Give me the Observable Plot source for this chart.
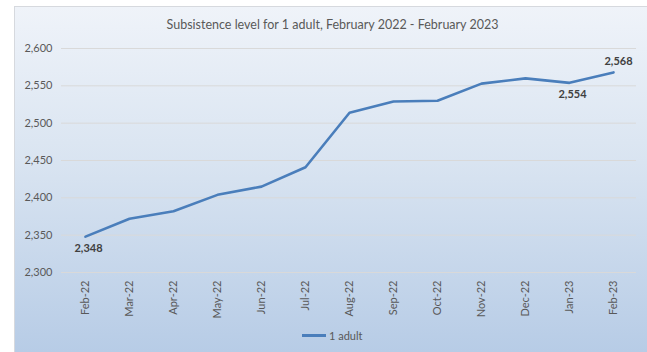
<!DOCTYPE html>
<html>
<head>
<meta charset="utf-8">
<script src="https://cdn.jsdelivr.net/npm/d3@7"></script>
<script src="https://cdn.jsdelivr.net/npm/@observablehq/plot@0.6"></script>
<style>
  html, body { margin: 0; padding: 0; background: #ffffff; }
  #wrap { position: relative; width: 647px; height: 352px; overflow: hidden; font-family: Lato, "Open Sans", sans-serif; }
  #bg { position: absolute; left: 14px; top: 6px; right: 0; bottom: 0;
        background: linear-gradient(to bottom, #eff3f9 0%, #d9e4f1 45%, #b7cce6 100%);
        border-top: 1px solid #d6d9de; border-left: 1px solid #d6d9de; }
  #title { position: relative; height: 40px; box-sizing: border-box; padding-top: 18px; padding-left: 18px;
           text-align: center; font-size: 12.5px; line-height: 14px; color: #595959; }
  #chart { position: relative; height: 280px; }
  #legend { position: absolute; top: 329px; left: 302px; font-size: 11px; color: #595959; display: flex; align-items: center; }
  #legend .sw { width: 24px; height: 3px; background: #4a7ebb; margin-right: 3px; }
</style>
</head>
<body>
<div id="wrap">
  <div id="bg"></div>
  <div id="title">Subsistence level for 1 adult, February 2022 - February 2023</div>
  <div id="chart"></div>
  <div id="legend"><div class="sw"></div><span>1 adult</span></div>
</div>
<script>
const months = ["Feb-22","Mar-22","Apr-22","May-22","Jun-22","Jul-22","Aug-22","Sep-22","Oct-22","Nov-22","Dec-22","Jan-23","Feb-23"];
const values = [2348, 2372, 2382, 2404, 2415, 2441, 2514, 2529, 2530, 2553, 2560, 2554, 2568];
const yTicks = [2300, 2350, 2400, 2450, 2500, 2550, 2600];
const labelsBelow = ["Feb-22", "Jan-23"];
const labelsAbove = ["Feb-23"];

const data = months.map((m, i) => ({month: m, value: values[i]}));
const fmt = d3.format(",");

const plot = Plot.plot({
  width: 647,
  height: 280,
  marginLeft: 61,
  marginRight: 11,
  marginTop: 8,
  marginBottom: 48,
  style: {background: "transparent", fontFamily: "Lato, 'Open Sans', sans-serif", fontSize: "11px", color: "#595959"},
  x: {type: "point", domain: months, padding: 0.5, label: null},
  y: {domain: [2300, 2600], label: null},
  marks: [
    Plot.gridY(yTicks, {stroke: "#d9d9d9", strokeOpacity: 1, strokeWidth: 1}),
    Plot.axisY({ticks: yTicks, tickSize: 0, tickPadding: 9, tickFormat: fmt, fill: "#595959", fontSize: 11}),
    Plot.axisX({tickSize: 0, tickPadding: 8, tickRotate: -90, fill: "#595959", fontSize: 11}),
    Plot.line(data, {x: "month", y: "value", stroke: "#4a7ebb", strokeWidth: 2.6}),
    Plot.text(data.filter(d => labelsBelow.includes(d.month)), {x: "month", y: "value", text: d => fmt(d.value), dy: 12, dx: 3, fill: "#404040", fontWeight: "bold", fontSize: 11}),
    Plot.text(data.filter(d => labelsAbove.includes(d.month)), {x: "month", y: "value", text: d => fmt(d.value), dy: -11, dx: 5, fill: "#404040", fontWeight: "bold", fontSize: 11})
  ]
});
document.getElementById("chart").appendChild(plot);
</script>
</body>
</html>
